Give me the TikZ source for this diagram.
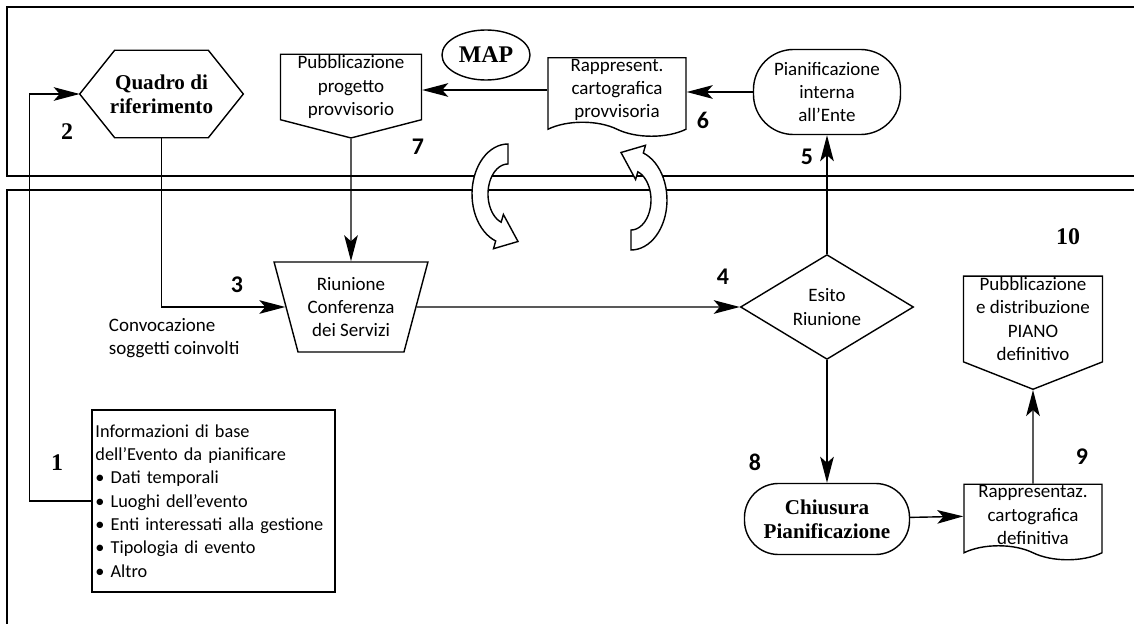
\documentclass[tikz,border=0pt]{standalone}
\usepackage{fontspec}
\setmainfont{Carlito}
\newfontfamily\romfont{Liberation Serif}
\usetikzlibrary{arrows.meta,shapes.geometric,shapes.symbols}

\tikzset{pics/bentarrow/.style={code={
  \draw[line width=1pt, fill=white]
    plot[domain=90:250, samples=30] ({36*cos(\x)},{-50*sin(\x)})
    -- (-14.5,54.7) -- (10,47.5) -- (-4.6,20.5)
    -- plot[domain=250:90, samples=30] ({20*cos(\x)},{-30*sin(\x)}) -- cycle;
}}}

\begin{document}
\begin{tikzpicture}[x=0.025cm, y=-0.025cm,
  every node/.style={font=\fontsize{13.5}{16.5}\selectfont, align=center},
  shapebox/.style={draw, line width=1pt},
  num/.style={font=\fontsize{17}{17}\selectfont\bfseries},
  numrm/.style={font=\fontsize{17}{17}\selectfont\romfont\bfseries},
  boldrm/.style={font=\fontsize{15}{17}\selectfont\romfont\bfseries},
  conn/.style={-{Stealth[length=0.65cm, width=0.34cm, inset=0.15cm]}, line width=1pt},
  docbox/.style={shapebox, tape, tape bend top=none, tape bend bottom=out and in, tape bend height=0.35cm, inner sep=1pt},
  pubbox/.style={shapebox, signal, signal to=south, inner sep=1pt},
  bandline/.style={line width=1.3pt}]

\useasboundingbox (0,0) rectangle (1134,624);

% Bands
\draw[bandline] (1140,7) -- (7,7) -- (7,176) -- (1140,176);
\draw[bandline] (1140,190) -- (7,190) -- (7,630);

% Upper band
\node[minimum width=4.075cm, minimum height=2.175cm, inner sep=0pt, boldrm] (quadro) at (161.5,94) {Quadro di\\riferimento};
\draw[shapebox] (quadro.west) -- ([xshift=0.875cm]quadro.north west) -- ([xshift=-0.875cm]quadro.north east)
  -- (quadro.east) -- ([xshift=-0.875cm]quadro.south east) -- ([xshift=0.875cm]quadro.south west) -- cycle;
\node[pubbox, signal pointer angle=151, minimum width=3.525cm, minimum height=1.925cm] (pubprov) at (351,87) {Pubblicazione\\progetto\\provvisorio};
\node[shapebox, ellipse, minimum width=2.2cm, minimum height=1.25cm, inner sep=0pt, font=\fontsize{17}{17}\selectfont\romfont\bfseries] (map) at (486,55) {MAP};
\node[docbox, minimum width=3.45cm, minimum height=1.825cm] (rapprov) at (617,90) {Rappresent.\\cartografica\\provvisoria};
\node[shapebox, rounded corners=1cm, minimum width=3.675cm, minimum height=2.125cm, inner sep=1pt] (pianint) at (827,92) {Pianificazione\\interna\\all'Ente};

% Lower band
\node[shapebox, trapezium, trapezium left angle=72, trapezium right angle=72, shape border rotate=180,
  trapezium stretches=true, minimum width=3.85cm, minimum height=2.25cm, inner sep=1pt] (riun) at (351,307) {Riunione\\Conferenza\\dei Servizi};
\node[shapebox, diamond, minimum width=4.325cm, minimum height=2.4cm, inner sep=0pt] (esito) at (827,307) {Esito\\Riunione};
\node[shapebox, rounded corners=0.85cm, minimum width=4.125cm, minimum height=1.775cm, inner sep=1pt, boldrm] (chius) at (827,519) {Chiusura\\Pianificazione};
\node[docbox, minimum width=3.45cm, minimum height=1.75cm] (rapdef) at (1033,515) {Rappresentaz.\\cartografica\\definitiva};
\node[pubbox, signal pointer angle=137, minimum width=3.475cm, minimum height=2.65cm] (pubdef) at (1033,319) {Pubblicazione\\e distribuzione\\PIANO\\definitivo};
\node[shapebox, rectangle, minimum width=6.075cm, minimum height=4.55cm, inner sep=2pt, text width=5.9cm, align=left,
  font=\fontsize{13}{16.6}\selectfont] (info) at (213.5,501)
  {Informazioni di base\\dell’Evento da pianificare\\\textbullet{} Dati temporali\\\textbullet{} Luoghi dell'evento\\\textbullet{} Enti interessati alla gestione\\\textbullet{} Tipologia di evento\\\textbullet{} Altro};
\node[anchor=west, align=left] (conv) at (104,338) {Convocazione\\soggetti coinvolti};

% Loop arrows
\pic at (508,194) {bentarrow};
\pic[rotate=180] at (631,200) {bentarrow};

% Connections
\draw[conn] (info.west) -- ++(-62,0) |- (quadro.west);
\draw[conn] (quadro.south) |- (riun);
\draw[conn] (pubprov.south) -- (riun);
\draw[conn] (riun) -- (esito);
\draw[conn] (esito) -- (pianint);
\draw[conn] (pianint.west) -- (pianint.west -| rapprov.east);
\draw[conn] (rapprov.west) -- (rapprov.west -| pubprov.east);
\draw[conn] (esito) -- (chius);
\draw[conn] (chius) -- (rapdef);
\draw[conn] (rapdef) -- (pubdef);

% Step numbers
\node[numrm] (n1) at (57,463) {1};
\node[numrm] (n2) at (67,132) {2};
\node[num] (n3) at (237,285) {3};
\node[num] (n4) at (723,277) {4};
\node[num] (n5) at (807,157) {5};
\node[num] (n6) at (703,120) {6};
\node[num] (n7) at (418,147) {7};
\node[num] (n8) at (755,462) {8};
\node[num] (n9) at (1082,457) {9};
\node[numrm] (n10) at (1068,237) {10};
\end{tikzpicture}
\end{document}
